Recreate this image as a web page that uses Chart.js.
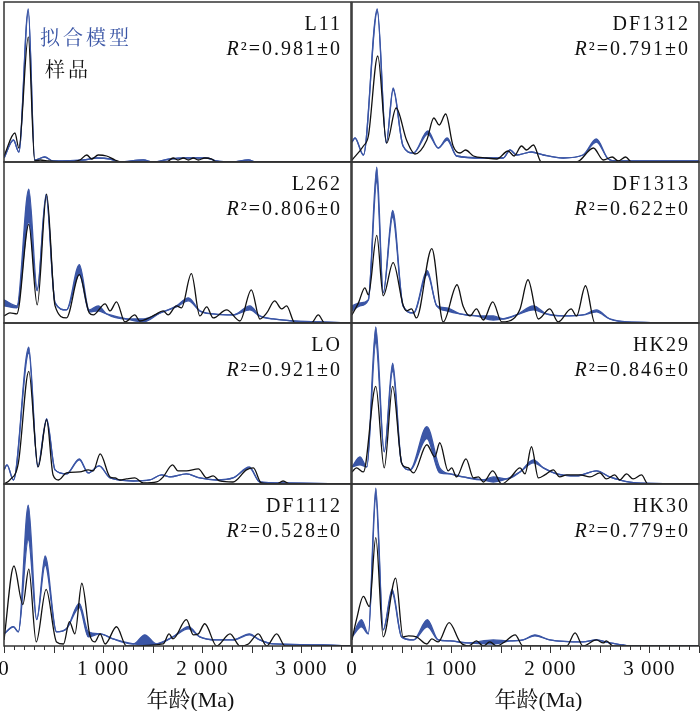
<!DOCTYPE html>
<html>
<head>
<meta charset="utf-8">
<script src="https://cdn.jsdelivr.net/npm/chart.js@4.4.1/dist/chart.umd.min.js"></script>
<style>
  html, body { margin: 0; padding: 0; background: #fff; }
  #fig { position: relative; width: 700px; height: 711px; overflow: hidden; }
  #fig canvas { position: absolute; }
</style>
</head>
<body>
<div id="fig"></div>
<script>
// panel order: left column / right column, row by row
const panelNames = ["L11", "DF1312", "L262", "DF1313", "LO", "HK29", "DF1112", "HK30"];
const r2Values = ["0.981", "0.791", "0.806", "0.622", "0.921", "0.846", "0.528", "0.779"];
const xTickValues = [0, 1000, 2000, 3000];
const legendModel = "拟合模型";
const legendSample = "样品";
const xTitle = "年龄(Ma)";

// sample curves: [age Ma, density]
const sample_L11 = [[0,6],[110,29],[150,14],[245,125],[310,1],[365,2],[450,1],[630,0],[765,2],[835,7],[885,3],[950,7],[1035,6],[1120,2],[1185,0],[1640,0],[1705,4],[1755,2],[1810,4],[1860,2],[1910,4],[1960,2],[2025,4],[2095,3],[2145,0],[3500,0]];
const sample_DF1312 = [[0,2],[115,16],[165,26],[260,106],[350,19],[445,54],[550,22],[635,8],[755,22],[825,44],[880,37],[945,48],[1020,16],[1090,9],[1145,12],[1225,6],[1355,4],[1460,3],[1575,11],[1635,6],[1710,16],[1760,12],[1830,17],[1910,0],[2265,0],[2435,14],[2535,2],[2625,5],[2685,1],[2760,5],[2820,0],[3500,0]];
const sample_L262 = [[0,7],[60,10],[130,9],[250,98],[335,18],[430,128],[515,17],[630,5],[760,48],[860,10],[900,8],[1020,19],[1070,12],[1135,21],[1220,1],[1320,8],[1370,2],[1440,4],[1520,8],[1605,12],[1655,8],[1740,17],[1790,15],[1890,49],[1975,7],[2045,16],[2110,5],[2245,13],[2380,2],[2495,33],[2580,4],[2650,10],[2730,22],[2800,14],[2850,17],[2935,0],[3100,0],[3170,8],[3235,0],[3500,0]];
const sample_DF1313 = [[0,8],[65,20],[130,35],[165,28],[250,87],[315,27],[415,60],[515,18],[550,12],[600,14],[650,5],[805,74],[920,1],[1060,38],[1120,17],[1190,7],[1255,14],[1325,3],[1420,21],[1510,1],[1625,4],[1695,14],[1775,43],[1880,4],[1995,14],[2080,1],[2210,14],[2265,7],[2355,37],[2450,0],[3500,0]];
const sample_LO = [[0,0],[60,4],[145,21],[250,112],[345,17],[430,64],[495,9],[550,4],[630,11],[765,12],[850,14],[900,13],[970,30],[1070,7],[1120,6],[1170,4],[1235,5],[1320,6],[1405,1],[1540,2],[1605,7],[1700,19],[1755,13],[1840,13],[1960,15],[2045,6],[2110,8],[2175,3],[2310,2],[2445,14],[2515,16],[2595,1],[2750,0],[2815,3],[2885,0],[3500,0]];
const sample_HK29 = [[0,12],[45,16],[115,12],[240,97],[325,16],[410,97],[500,21],[535,17],[570,16],[620,11],[755,39],[835,27],[885,41],[970,13],[1005,16],[1055,7],[1150,25],[1225,6],[1275,7],[1325,2],[1420,13],[1510,0],[1595,6],[1695,16],[1745,10],[1810,37],[1880,6],[1945,9],[2030,14],[2095,7],[2165,9],[2300,9],[2400,7],[2500,11],[2565,5],[2650,9],[2700,4],[2770,10],[2835,5],[2920,9],[2985,0],[3500,0]];
const sample_DF1112 = [[0,6],[100,79],[190,41],[250,76],[325,4],[425,56],[530,4],[600,2],[660,24],[715,12],[785,62],[865,11],[915,4],[970,12],[1020,2],[1135,19],[1235,0],[1605,2],[1665,12],[1705,7],[1840,26],[1910,11],[1960,12],[2025,22],[2145,0],[2280,12],[2380,0],[2465,2],[2565,12],[2650,0],[2750,12],[2835,0],[3500,0]];
const sample_HK30 = [[0,6],[45,26],[115,49],[175,39],[240,107],[315,9],[440,67],[515,9],[570,10],[650,9],[755,2],[805,7],[870,4],[980,23],[1090,4],[1175,0],[1255,5],[1325,0],[1390,4],[1460,0],[1540,4],[1645,11],[1725,0],[2165,0],[2250,13],[2330,0],[2465,6],[2535,3],[2565,5],[2635,0],[3500,0]];

// model curves: [age Ma, low, high] (high left out where the band is a single line)
const model_L11 = [[0,4],[95,22],[150,10],[245,150,153],[310,2],[410,5],[495,1],[800,2],[935,4],[1070,3],[1170,0],[1405,2],[1505,0],[1675,3],[1840,4],[2045,4],[2145,1],[2310,0],[2465,2],[2545,0],[3500,0]];
const model_DF1312 = [[0,20],[30,24],[115,7],[255,150,153],[345,19],[415,72,74],[515,16],[620,9],[765,28,31],[870,14],[960,22,24],[1055,6],[1325,4],[1525,4],[1595,12],[1660,7],[1810,10],[1930,7],[2130,4],[2330,7],[2465,20,23],[2585,3],[2670,1],[3000,1],[3500,1]];
const model_L262 = [[0,17,23],[130,15,17],[250,100,133],[335,32,34],[425,125,128],[515,20],[630,13],[760,48,58],[860,11,13],[950,12,17],[1035,9],[1235,4],[1405,1,4],[1575,10],[1740,16,17],[1860,22,25],[1975,12],[2110,9],[2310,8],[2480,13,17],[2580,7],[2715,4],[2915,2],[3185,1],[3500,0]];
const model_DF1313 = [[0,12,17],[80,17,20],[165,23],[250,140,155],[315,30],[410,105,112],[515,17],[620,10],[760,48,52],[855,17],[955,12,15],[1090,9],[1255,7],[1425,3,7],[1525,4],[1660,8],[1830,13,17],[1960,9],[2130,7],[2330,8],[2465,11,13],[2600,4],[2770,1],[3500,0]];
const model_LO = [[0,14],[30,19],[95,4],[250,130,136],[340,17],[430,63,65],[515,14],[630,10],[760,24,25],[850,11],[960,18],[1070,6],[1305,3],[1470,4],[1590,9],[1675,7],[1840,10],[1975,6],[2145,4],[2310,6],[2475,16,17],[2580,2],[2815,1],[3500,0]];
const model_HK29 = [[0,17],[80,19,27],[150,17],[240,140,156],[325,32],[410,112,120],[500,21],[585,14],[755,45,57],[885,11,16],[990,10],[1120,7],[1325,4],[1425,2,7],[1560,5],[1695,12],[1830,21,24],[1930,16],[2065,10],[2265,8],[2465,13],[2600,7],[2700,4],[2870,1],[3500,0]];
const model_DF1112 = [[0,12],[95,19],[145,14],[245,105,139],[330,26],[415,80,89],[530,14],[630,17],[760,38,42],[850,9,14],[970,12],[1100,7],[1305,2],[1420,1,11],[1540,2],[1705,9],[1860,17,19],[1975,9],[2145,6],[2310,6],[2475,11,12],[2580,6],[2715,2],[3220,1],[3500,0]];
const model_HK30 = [[0,9],[95,19,26],[165,12],[240,145,156],[315,16],[405,52,56],[500,9],[620,6],[760,19,26],[870,6],[990,5],[1155,3],[1425,2,6],[1595,5],[1725,6],[1845,10,11],[1995,6],[2330,4],[2465,6],[2600,3],[2735,1],[2800,0],[3500,0]];

const samples = [sample_L11, sample_DF1312, sample_L262, sample_DF1313, sample_LO, sample_HK29, sample_DF1112, sample_HK30];
const models = [model_L11, model_DF1312, model_L262, model_DF1313, model_LO, model_HK29, model_DF1112, model_HK30];

const BLUE = "#3b56a6";
const INK = "#111";
const cjk = '"Noto Serif CJK SC", "Noto Sans CJK SC"';
const serif = '"Liberation Serif", "Times New Roman", ' + cjk + ', serif';
const colLeft = [4, 352];
const colW = 347;
const rowTop = [2, 162, 323, 484];
const rowH = [160, 161, 161, 162];
const M = 20, P = 4, AXIS_H = 75;

const fmtTick = v => (v === 0 ? "0" : (v / 1000) + " 000");

function panelPlugin(i, bottom) {
  return {
    id: "panelDeco" + i,
    afterDraw(chart) {
      const { ctx, chartArea: a } = chart;
      ctx.save();
      // frame
      ctx.strokeStyle = "#333";
      ctx.lineWidth = 1.5;
      ctx.strokeRect(a.left, a.top, a.right - a.left, a.bottom - a.top);

      // sample name and R²
      ctx.fillStyle = INK;
      ctx.textAlign = "right";
      ctx.textBaseline = "alphabetic";
      ctx.letterSpacing = "2px";
      ctx.font = "20px " + serif;
      const rx = a.right - 9;
      ctx.fillText(panelNames[i], rx, a.top + 28);
      const rest = "\u00b2=" + r2Values[i] + "\u00b10";
      const w = ctx.measureText(rest).width;
      ctx.fillText(rest, rx, a.top + 53);
      ctx.font = "italic 20px " + serif;
      ctx.fillText("R", rx - w, a.top + 53);

      // legend in the first panel
      if (i === 0) {
        ctx.textAlign = "left";
        ctx.letterSpacing = "3px";
        ctx.font = "20px " + cjk + ", sans-serif";
        ctx.fillStyle = BLUE;
        ctx.fillText(legendModel, a.left + 36, a.top + 43);
        ctx.fillStyle = INK;
        ctx.fillText(legendSample, a.left + 41, a.top + 75);
      }

      if (bottom) {
        const x = chart.scales.x;
        ctx.letterSpacing = "0px";
        ctx.strokeStyle = "#333";
        ctx.lineWidth = 1;
        for (let v = 0; v <= 3500; v += 100) {
          const px = Math.round(x.getPixelForValue(v)) + 0.5;
          ctx.beginPath();
          ctx.moveTo(px, a.bottom);
          ctx.lineTo(px, a.bottom + (v % 500 === 0 ? 7 : 4));
          ctx.stroke();
        }
        ctx.fillStyle = INK;
        ctx.textAlign = "center";
        ctx.textBaseline = "middle";
        ctx.letterSpacing = "1px";
        ctx.font = "21px " + serif;
        xTickValues.forEach(v => ctx.fillText(fmtTick(v), x.getPixelForValue(v), a.bottom + 23));
        ctx.letterSpacing = "0px";
        ctx.font = "22px " + serif;
        ctx.fillText(xTitle, x.getPixelForValue(1880), a.bottom + 55);
      }
      ctx.restore();
    }
  };
}

const fig = document.getElementById("fig");

for (let i = 0; i < 8; i++) {
  const col = i % 2, row = Math.floor(i / 2);
  const bottom = row === 3;
  const cv = document.createElement("canvas");
  const w = colW + 2 * M;
  const h = rowH[row] + P + (bottom ? AXIS_H : P);
  cv.width = w;
  cv.height = h;
  cv.style.width = w + "px";
  cv.style.height = h + "px";
  cv.style.left = (colLeft[col] - M) + "px";
  cv.style.top = (rowTop[row] - P) + "px";
  fig.appendChild(cv);

  const s = samples[i], m = models[i];
  const line = { pointRadius: 0, cubicInterpolationMode: "monotone", fill: false };

  new Chart(cv, {
    type: "line",
    data: {
      datasets: [
        Object.assign({}, line, {
          label: "样品",
          data: s.map(p => ({ x: p[0], y: p[1] })),
          borderColor: INK,
          borderWidth: 1.3
        }),
        Object.assign({}, line, {
          label: "拟合模型 low",
          data: m.map(p => ({ x: p[0], y: p[1] })),
          borderColor: BLUE,
          borderWidth: 1.3
        }),
        Object.assign({}, line, {
          label: "拟合模型",
          data: m.map(p => ({ x: p[0], y: p.length > 2 ? p[2] : p[1] })),
          borderColor: BLUE,
          borderWidth: 1.3,
          backgroundColor: BLUE,
          fill: "-1"
        })
      ]
    },
    options: {
      responsive: false,
      animation: false,
      devicePixelRatio: 1,
      layout: { padding: { left: M, right: M, top: P, bottom: bottom ? AXIS_H : P } },
      plugins: { legend: { display: false }, tooltip: { enabled: false }, filler: { propagate: false } },
      scales: {
        x: { type: "linear", min: 0, max: 3500, display: false },
        y: { display: false, min: 0, max: 160 }
      }
    },
    plugins: [panelPlugin(i, bottom)]
  });
}
</script>
</body>
</html>
